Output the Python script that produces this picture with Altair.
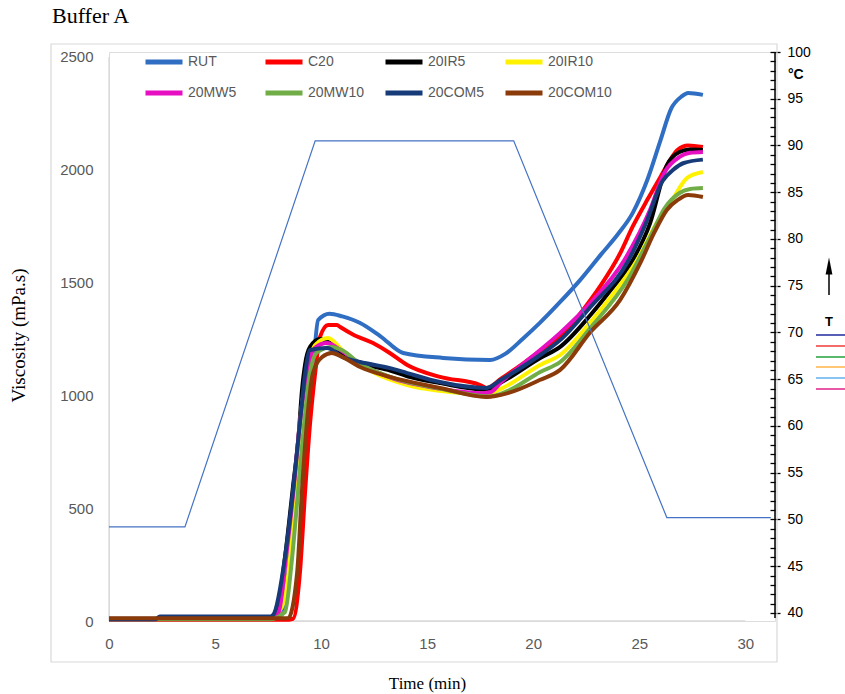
import altair as alt
import pandas as pd

# ---------------- data ----------------
names = ["RUT", "C20", "20IR5", "20IR10", "20MW5", "20MW10", "20COM5", "20COM10"]
colors = ["#2F6EC2", "#FF0000", "#000000", "#FFF200", "#E70FC2", "#70AD47", "#173B78", "#8B3A0A"]

rut_t = [0, 2.2, 2.4, 7.6, 8.07, 8.5, 8.87, 9.1, 9.6, 9.86, 10.4, 11.0, 11.84, 12.8, 13.87, 15.75, 17.97, 18.7, 19.5, 20.3, 21.27, 22.2, 23.2, 24.0, 24.7, 25.4, 26.0, 26.5, 27.0, 27.3, 28.0]
rut_v = [10, 10, 18, 18, 25, 250, 580, 727, 1100, 1334, 1362, 1350, 1321, 1262, 1188, 1166, 1157, 1185, 1250, 1320, 1414, 1510, 1625, 1715, 1810, 1960, 2130, 2270, 2325, 2340, 2332]

c20_t = [0, 2.2, 7.6, 8.3, 8.68, 9.0, 9.25, 9.48, 9.72, 9.95, 10.33, 10.75, 10.9, 11.5, 12.45, 13.2, 14.06, 15.6, 17.5, 17.8, 18.5, 19.5, 20.3, 21.27, 22.7, 23.2, 24.1, 24.7, 25.4, 26.0, 26.5, 26.8, 27.3, 28.0]
c20_v = [5, 5, 5, 5, 10, 213, 580, 877, 1099, 1259, 1312, 1312, 1303, 1270, 1232, 1190, 1135, 1082, 1046, 1033, 1075, 1140, 1195, 1260, 1423, 1490, 1630, 1750, 1870, 1968, 2050, 2088, 2108, 2101]

ir5_t = [0, 2.2, 2.4, 7.6, 7.9, 8.3, 8.68, 8.92, 9.1, 9.25, 9.48, 9.95, 10.5, 11.0, 12.0, 13.25, 14.06, 15.6, 17.8, 18.5, 20.33, 21.27, 22.7, 23.6, 24.7, 25.5, 26.3, 26.9, 27.4, 28.0]
ir5_v = [8, 8, 15, 15, 40, 284, 600, 800, 1024, 1140, 1215, 1250, 1228, 1185, 1140, 1110, 1085, 1055, 1025, 1058, 1166, 1215, 1356, 1460, 1600, 1760, 2020, 2079, 2090, 2088]

ir10_t = [0, 2.2, 2.4, 7.6, 8.15, 8.54, 8.77, 9.0, 9.33, 9.72, 10.33, 11.0, 11.8, 12.5, 14.06, 15.6, 17.8, 18.5, 20.33, 21.27, 22.7, 23.6, 24.9, 25.8, 26.55, 27.26, 28.0]
ir10_v = [8, 8, 15, 15, 62, 284, 580, 877, 1099, 1223, 1254, 1200, 1140, 1100, 1046, 1020, 1005, 1030, 1135, 1179, 1325, 1430, 1600, 1760, 1866, 1964, 1990]

mw5_t = [0, 2.2, 2.4, 7.6, 8.0, 8.35, 8.7, 9.0, 9.33, 9.7, 10.28, 11.0, 11.84, 13.25, 15.6, 17.6, 18.0, 18.5, 20.33, 21.27, 22.7, 24.3, 25.5, 26.2, 26.9, 27.4, 28.0]
mw5_v = [8, 8, 15, 15, 40, 284, 580, 877, 1099, 1210, 1232, 1195, 1140, 1080, 1030, 1010, 1015, 1060, 1201, 1277, 1410, 1600, 1820, 1990, 2057, 2075, 2079]

mw10_t = [0, 2.2, 7.6, 8.3, 8.6, 8.92, 9.2, 9.48, 9.8, 10.5, 11.0, 11.84, 13.25, 15.6, 17.9, 18.8, 20.33, 21.27, 22.7, 24.5, 25.5, 26.2, 26.9, 27.4, 28.0]
mw10_v = [8, 8, 8, 40, 250, 580, 877, 1099, 1190, 1215, 1200, 1140, 1082, 1030, 995, 1020, 1104, 1148, 1300, 1520, 1700, 1830, 1897, 1915, 1919]

com5_t = [0, 2.2, 2.4, 7.6, 7.74, 8.3, 8.68, 9.0, 9.25, 9.48, 10.28, 11.0, 11.84, 13.25, 14.06, 15.6, 17.8, 18.5, 20.33, 21.27, 22.7, 24.5, 25.3, 26.1, 26.6, 27.1, 28.0]
com5_v = [8, 8, 20, 20, 27, 284, 580, 877, 1099, 1201, 1210, 1170, 1148, 1121, 1099, 1059, 1033, 1070, 1179, 1245, 1392, 1600, 1760, 1950, 2000, 2030, 2045]

com10_t = [0, 7.6, 8.1, 8.45, 8.87, 9.1, 9.33, 9.62, 10.05, 10.5, 10.9, 11.84, 13.25, 15.6, 17.8, 18.8, 20.3, 21.27, 22.7, 24.1, 25.05, 25.7, 26.3, 26.8, 27.3, 28.0]
com10_v = [12, 12, 12, 13, 213, 580, 877, 1099, 1170, 1188, 1175, 1126, 1082, 1033, 993, 1010, 1068, 1113, 1281, 1423, 1587, 1720, 1822, 1865, 1888, 1879]

temp_t = [0, 3.58, 9.72, 19.08, 26.3, 31.2]
temp_c = [49.2, 49.2, 90.5, 90.5, 50.2, 50.2]

x_ticks = [0, 5, 10, 15, 20, 25, 30]
y_ticks = [0, 500, 1000, 1500, 2000, 2500]
t_ticks = list(range(40, 101))

series_t = [rut_t, c20_t, ir5_t, ir10_t, mw5_t, mw10_t, com5_t, com10_t]
series_v = [rut_v, c20_v, ir5_v, ir10_v, mw5_v, mw10_v, com5_v, com10_v]

# ---------------- layout ----------------
W, H = 666, 569
SANS = "Liberation Sans"
SERIF = "Liberation Serif"
GRAY = "#595959"
LINE = "#D9D9D9"

x_enc = alt.X(
    "t:Q",
    scale=alt.Scale(domain=[0, 31.4], nice=False, zero=False),
    axis=alt.Axis(values=x_ticks, domain=False, ticks=False, grid=False,
                  labelFont=SANS, labelFontSize=15, labelColor=GRAY,
                  labelPadding=15, labelFlush=False,
                  title="Time (min)", titleFont=SERIF, titleFontSize=17,
                  titleFontWeight="normal", titleColor="black",
                  titleX=318, titleY=62, titleAlign="center", titleBaseline="middle"),
)

y_visc = alt.Y(
    "v:Q",
    scale=alt.Scale(domain=[0, 2522], nice=False, zero=False),
    axis=alt.Axis(values=y_ticks, format="d", domain=False, ticks=False, grid=False,
                  labelFont=SANS, labelFontSize=15, labelColor=GRAY, labelPadding=16,
                  title="Viscosity (mPa.s)", titleFont=SERIF, titleFontSize=19,
                  titleFontWeight="normal", titleColor="black",
                  titleX=-91, titleY=283, titleAngle=-90, titleAlign="center",
                  titleBaseline="middle"),
)

color_enc = alt.Color(
    "series:N",
    scale=alt.Scale(domain=names, range=colors),
    legend=alt.Legend(orient="none", legendX=34, legendY=-11, direction="horizontal",
                      columns=4, title=None, symbolType="stroke", symbolSize=1369,
                      symbolStrokeWidth=5, labelFont=SANS, labelFontSize=14,
                      labelColor=GRAY, labelOffset=3, gridAlign="all",
                      columnPadding=3, rowPadding=-5, padding=0),
)

# axis lines (gray) drawn from values
frame_df = pd.DataFrame({"t": [0], "t2": [30], "v": [0], "v2": [2500]})
left_rule = alt.Chart(frame_df).mark_rule(color=LINE, strokeWidth=1.3).encode(
    x=x_enc, y=y_visc, y2="v2:Q")
bottom_rule = alt.Chart(frame_df).mark_rule(color=LINE, strokeWidth=1.3).encode(
    x=x_enc, x2="t2:Q", y=y_visc)

series_layers = []
for name, ts, vs in zip(names, series_t, series_v):
    d = pd.DataFrame({"t": ts, "v": vs, "series": [name] * len(ts)})
    series_layers.append(
        alt.Chart(d).mark_line(strokeWidth=4, interpolate="monotone", clip=False).encode(
            x=x_enc, y=y_visc, color=color_enc)
    )

visc = alt.layer(left_rule, bottom_rule, *series_layers)

temp_df = pd.DataFrame({"t": temp_t, "temp": temp_c})
y_temp = alt.Y(
    "temp:Q",
    scale=alt.Scale(domain=[39.14, 100], nice=False, zero=False),
    axis=alt.Axis(orient="right", values=t_ticks, domain=False, grid=False,
                  offset=-5, tickColor="black", tickWidth=1.3,
                  tickSize={"condition": {"test": "datum.value % 5 == 0", "value": 10}, "value": 5},
                  labelExpr="datum.value % 5 == 0 ? datum.label : ''",
                  labelOverlap=False, labelFont=SANS, labelFontSize=14,
                  labelColor="black", labelPadding=7, title=None),
)
temp_line = alt.Chart(temp_df).mark_line(color="#4472C4", strokeWidth=1.2).encode(
    x=x_enc, y=y_temp)

# ---------------- decorations ----------------
one = pd.DataFrame({"a": [0]})
border = alt.Chart(one).mark_rect(fillOpacity=0, stroke=LINE, strokeWidth=1.2).encode(
    x=alt.value(-58), x2=alt.value(668), y=alt.value(-8), y2=alt.value(610))
right_line = alt.Chart(one).mark_rule(color="black", strokeWidth=1.5).encode(
    x=alt.value(W), y=alt.value(0), y2=alt.value(566))
deg = alt.Chart(one).mark_text(font=SANS, fontSize=14, fontWeight="bold", align="left",
                               baseline="middle", color="black").encode(
    x=alt.value(679), y=alt.value(23), text=alt.value("°C"))
arrow_shaft = alt.Chart(one).mark_rule(color="black", strokeWidth=1.5).encode(
    x=alt.value(720), y=alt.value(222), y2=alt.value(243))
arrow_head = alt.Chart(one).mark_point(shape="M0,-1L0.4,1L-0.4,1Z", filled=True,
                                       color="black", opacity=1, size=289).encode(
    x=alt.value(720), y=alt.value(214))
t_text = alt.Chart(one).mark_text(font=SANS, fontSize=13, fontWeight="bold",
                                  baseline="middle", color="black").encode(
    x=alt.value(720), y=alt.value(270), text=alt.value("T"))
side_colors = ["#1E2A9C", "#F03A3A", "#22A03A", "#FFB347", "#5FB0F0", "#E0208A"]
side_y = [283, 294, 305, 315, 326, 337]
side = [
    alt.Chart(one).mark_rule(color=c, strokeWidth=1.6).encode(
        x=alt.value(707), x2=alt.value(740), y=alt.value(yy))
    for c, yy in zip(side_colors, side_y)
]

chart = alt.layer(
    border, visc, temp_line, right_line, deg, arrow_shaft, arrow_head, t_text, *side
).resolve_scale(y="independent").properties(
    width=W, height=H,
    padding={"left": 109, "top": 52, "right": 70, "bottom": 73},
    autosize=alt.AutoSizeParams(type="none"),
    title=alt.TitleParams("Buffer A", anchor="start", frame="group", font=SERIF,
                          fontSize=22, fontWeight="normal", color="black",
                          dx=-57, offset=13),
).configure_view(stroke=None).configure(background="white")

chart.save("out.html", embed_options={"renderer": "svg", "actions": False})
